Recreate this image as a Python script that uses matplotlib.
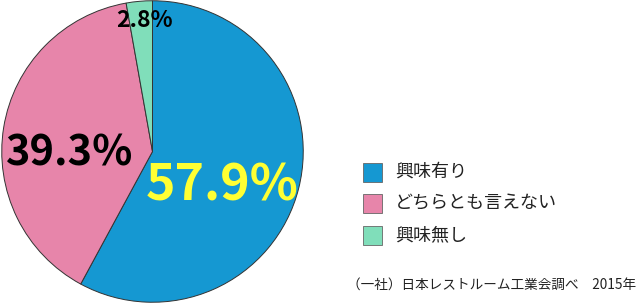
import matplotlib
matplotlib.use("Agg")
import matplotlib.pyplot as plt
from matplotlib.patches import Rectangle

plt.rcParams['font.family'] = ['Noto Sans CJK JP', 'DejaVu Sans']

# data
categories = ['興味有り', 'どちらとも言えない', '興味無し']
values = [57.9, 39.3, 2.8]
colors = ['#1598d2', '#e785aa', '#80deba']
label_colors = ['#ffff33', 'black', 'black']
label_sizes = [36, 30, 16.5]
source_text = '（一社）日本レストルーム工業会調べ　2015年'

fig = plt.figure(figsize=(6.41, 3.03), dpi=100)

# pie
ax = fig.add_axes([0.0, 0.0, 305 / 641, 1.0])
wedges, _ = ax.pie(values, colors=colors, startangle=90, counterclock=False,
                   radius=1.0,
                   wedgeprops=dict(edgecolor='#333333', linewidth=0.7))
ax.set_xlim(-1.005, 1.005)
ax.set_ylim(-1.005, 1.005)
ax.set_aspect('equal')

label_pos = [(0.46, -0.23), (-0.55, -0.01), (-0.05, 0.87)]
for v, pos, c, s in zip(values, label_pos, label_colors, label_sizes):
    ax.text(pos[0], pos[1], f'{v}%', color=c, fontsize=s, fontweight='bold',
            ha='center', va='center')

# legend
lax = fig.add_axes([0, 0, 1, 1])
lax.set_xlim(0, 641)
lax.set_ylim(303, 0)
lax.axis('off')
row_y = [172, 203, 235]
for cat, c, y in zip(categories, colors, row_y):
    lax.add_patch(Rectangle((363, y - 9.5), 19, 19, facecolor=c,
                            edgecolor='#666666', linewidth=0.6))
    lax.text(395, y, cat, fontsize=13, va='center', ha='left', color='#222222')

lax.text(636, 285, source_text, fontsize=9.8, va='center', ha='right',
         color='#222222')

fig.savefig('out.png', dpi=100)
